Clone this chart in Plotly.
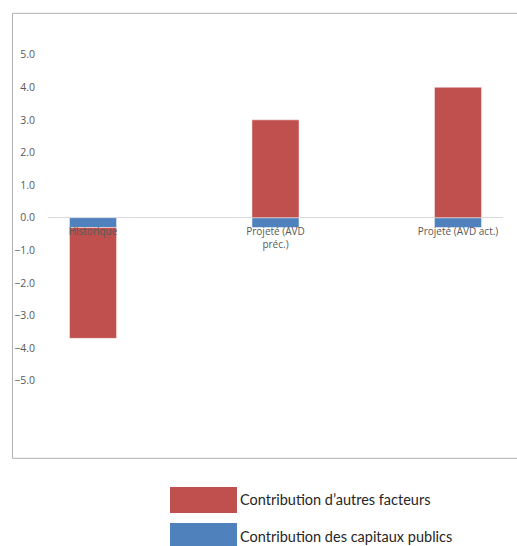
import plotly.graph_objects as go

# ---- data ----
categories = ["Historique", "Projeté (AVD préc.)", "Projeté (AVD act.)"]
category_labels = ["Historique", "Projeté (AVD<br>préc.)", "Projeté (AVD act.)"]
public_capital = [-0.3, -0.3, -0.3]
other_factors = [-3.4, 3.0, 4.0]
series_names = ["Contribution des capitaux publics", "Contribution d’autres facteurs"]
y_ticks = [-5, -4, -3, -2, -1, 0, 1, 2, 3, 4, 5]

RED = "#C0504D"
BLUE = "#4F81BD"

W, H = 517, 546
L, R, T, B = 48, 14, 22, 100
pw, ph = W - L - R, H - T - B
Y_RANGE = [-7, 6]


def px_x(x):
    return (x - L) / pw


def px_y(y):
    return 1 - (y - T) / ph


fig = go.Figure()
fig.add_trace(go.Bar(x=categories, y=public_capital, name=series_names[0],
                     marker=dict(color=BLUE, line=dict(color="rgba(255,255,255,0.6)", width=0.8)),
                     width=0.258, showlegend=False))
fig.add_trace(go.Bar(x=categories, y=other_factors, name=series_names[1],
                     marker=dict(color=RED, line=dict(color="rgba(255,255,255,0.6)", width=0.8)),
                     width=0.258, showlegend=False))

shapes = [
    # chart border
    dict(type="rect", xref="paper", yref="paper",
         x0=px_x(12.5), x1=px_x(520), y0=px_y(458.3), y1=px_y(13.3),
         line=dict(color="#B0B0B0", width=1), fillcolor="rgba(0,0,0,0)", layer="below"),
    # legend swatches
    dict(type="rect", xref="paper", yref="paper",
         x0=px_x(170), x1=px_x(237), y0=px_y(513), y1=px_y(487),
         line=dict(width=0), fillcolor=RED),
    dict(type="rect", xref="paper", yref="paper",
         x0=px_x(170), x1=px_x(237), y0=px_y(549), y1=px_y(523),
         line=dict(width=0), fillcolor=BLUE),
]
annotations = [
    dict(xref="paper", yref="paper", x=px_x(238), y=px_y(500), text=series_names[1],
         showarrow=False, xanchor="left", yanchor="middle",
         font=dict(family="Lato", size=14.5, color="#262626")),
    dict(xref="paper", yref="paper", x=px_x(238), y=px_y(536), text=series_names[0],
         showarrow=False, xanchor="left", yanchor="middle",
         font=dict(family="Lato", size=14.5, color="#262626")),
]

zero_pos = (0 - Y_RANGE[0]) / (Y_RANGE[1] - Y_RANGE[0])

fig.update_layout(
    width=W, height=H,
    margin=dict(l=L, r=R, t=T, b=B),
    paper_bgcolor="white", plot_bgcolor="white",
    barmode="relative",
    shapes=shapes,
    annotations=annotations,
    xaxis=dict(type="category", range=[-0.2466, 2.2466],
               tickvals=categories, ticktext=category_labels,
               anchor="free", position=zero_pos,
               showline=False, showgrid=False, zeroline=False, ticks="",
               tickfont=dict(family="Open Sans", size=10, color="#595959"),
               ticklabelstandoff=6),
    yaxis=dict(range=Y_RANGE, tickvals=y_ticks, tickformat=".1f",
               showgrid=False, zeroline=True, zerolinecolor="#D9D9D9", zerolinewidth=1,
               showline=False, ticks="",
               tickfont=dict(family="Open Sans", size=10.5, color="#595959"),
               ticklabelstandoff=12),
    showlegend=False,
)

fig.write_html("out.html")
